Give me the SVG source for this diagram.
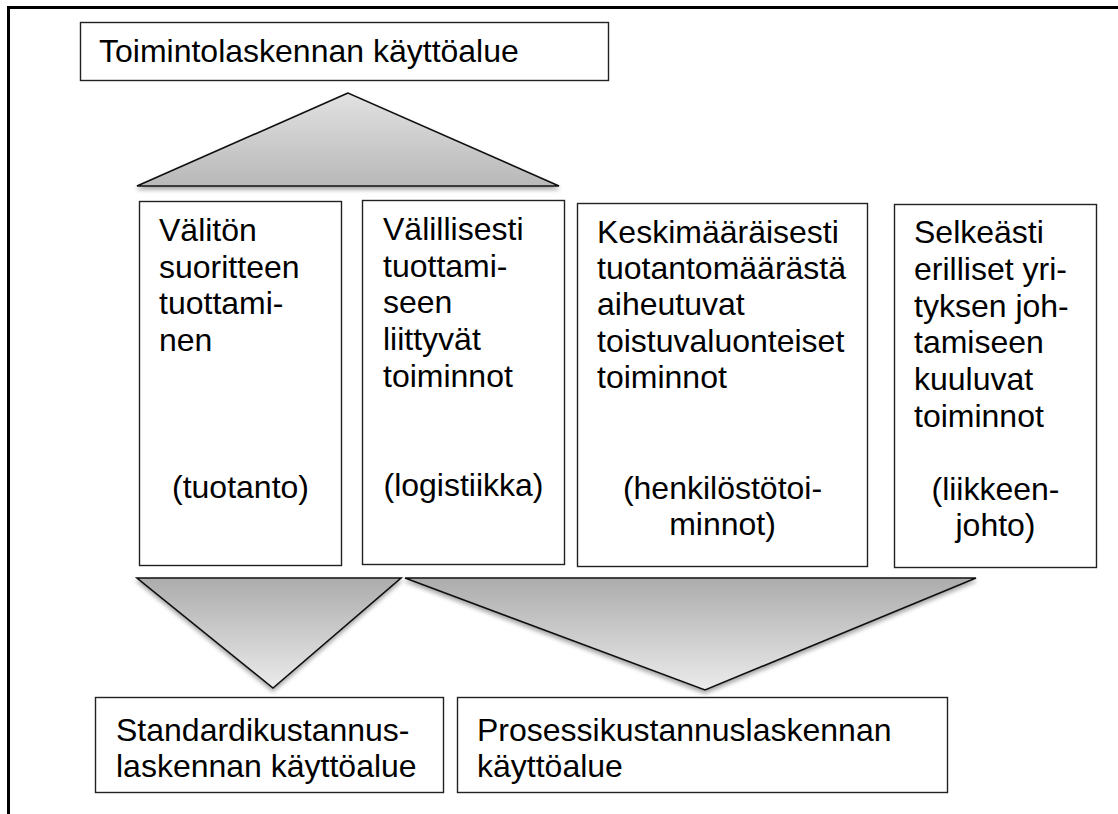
<svg xmlns="http://www.w3.org/2000/svg" width="1118" height="814" viewBox="0 0 1118 814">
<style>
.box{fill:#fff;stroke:#222;stroke-width:1.4}
.tri{stroke:#111;stroke-width:1.6;stroke-linejoin:miter}
.t{font-family:"Liberation Sans",Arial,sans-serif;font-size:32px;fill:#000}
.c{text-anchor:middle}
</style>
<defs>
<linearGradient id="gUp" x1="0" y1="0" x2="0" y2="1">
<stop offset="0" stop-color="#e2e2e2"/><stop offset="1" stop-color="#b8b8b8"/>
</linearGradient>
<linearGradient id="gDown" x1="0" y1="0" x2="0" y2="1">
<stop offset="0" stop-color="#acacac"/><stop offset="1" stop-color="#ebebeb"/>
</linearGradient>
<filter id="sh" x="-10%" y="-10%" width="120%" height="130%">
<feDropShadow dx="0" dy="3" stdDeviation="2" flood-color="#000" flood-opacity="0.35"/>
</filter>
</defs>
<rect width="1118" height="814" fill="#fff"/>
<path d="M8.5,814 V7.5 H1118" fill="none" stroke="#000" stroke-width="3"/>

<g id="title">
<rect class="box" x="80.5" y="22.5" width="528" height="58"/>
<text class="t" x="99" y="62">Toimintolaskennan käyttöalue</text>
</g>

<g id="connectors">
<polygon class="tri" points="348,93 137,186 559,186" fill="url(#gUp)" filter="url(#sh)"/>
<polygon class="tri" points="137,578 401,578 273,688" fill="url(#gDown)" filter="url(#sh)"/>
<polygon class="tri" points="405,578 976,578 705,690" fill="url(#gDown)" filter="url(#sh)"/>
</g>

<g id="n1">
<rect class="box" x="139.5" y="201.5" width="202" height="364"/>
<text class="t" x="159" y="241">Välitön</text>
<text class="t" x="159" y="277.5">suoritteen</text>
<text class="t" x="159" y="314">tuottami-</text>
<text class="t" x="159" y="350.5">nen</text>
<text class="t c" x="240.5" y="498">(tuotanto)</text>
</g>

<g id="n2">
<rect class="box" x="362.5" y="200.5" width="202" height="364"/>
<text class="t" x="383" y="240">Välillisesti</text>
<text class="t" x="383" y="277">tuottami-</text>
<text class="t" x="383" y="313">seen</text>
<text class="t" x="383" y="350">liittyvät</text>
<text class="t" x="383" y="387">toiminnot</text>
<text class="t c" x="463.5" y="496">(logistiikka)</text>
</g>

<g id="n3">
<rect class="box" x="577.5" y="203.5" width="290" height="363"/>
<text class="t" x="597" y="243">Keskimääräisesti</text>
<text class="t" x="597" y="279">tuotantomäärästä</text>
<text class="t" x="597" y="315">aiheutuvat</text>
<text class="t" x="597" y="352">toistuvaluonteiset</text>
<text class="t" x="597" y="388">toiminnot</text>
<text class="t c" x="722.5" y="499">(henkilöstötoi-</text>
<text class="t c" x="722.5" y="535">minnot)</text>
</g>

<g id="n4">
<rect class="box" x="894.5" y="204.5" width="202" height="363"/>
<text class="t" x="914" y="243">Selkeästi</text>
<text class="t" x="914" y="280">erilliset yri-</text>
<text class="t" x="914" y="317">tyksen joh-</text>
<text class="t" x="914" y="353">tamiseen</text>
<text class="t" x="914" y="390">kuuluvat</text>
<text class="t" x="914" y="427">toiminnot</text>
<text class="t c" x="995.5" y="500">(liikkeen-</text>
<text class="t c" x="995.5" y="536">johto)</text>
</g>

<g id="b1">
<rect class="box" x="95.5" y="697.5" width="348" height="95"/>
<text class="t" x="116" y="741">Standardikustannus-</text>
<text class="t" x="116" y="777">laskennan käyttöalue</text>
</g>

<g id="b2">
<rect class="box" x="457.5" y="697.5" width="490" height="95"/>
<text class="t" x="477" y="741">Prosessikustannuslaskennan</text>
<text class="t" x="477" y="777">käyttöalue</text>
</g>
</svg>
